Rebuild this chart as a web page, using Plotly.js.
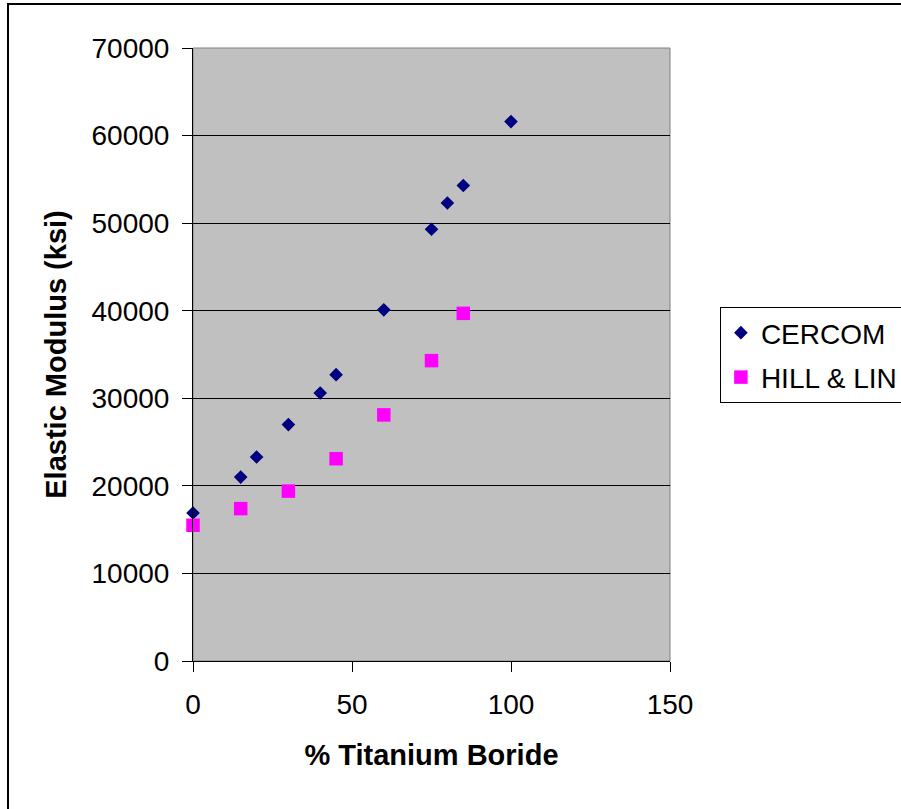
<!DOCTYPE html>
<html>
<head>
<meta charset="utf-8">
<script src="https://cdn.plot.ly/plotly-3.0.1.min.js"></script>
<style>
  html, body { margin: 0; padding: 0; background: #fff; overflow: hidden; }
  #chart { width: 901px; height: 809px; position: absolute; left: 0; top: 0; }
  #frame { position: absolute; left: 7px; top: 3px; width: 1000px; height: 900px;
           border: 2px solid #000; box-sizing: border-box; pointer-events: none; }
</style>
</head>
<body>
<div id="chart"></div>
<div id="frame"></div>
<script>
// CERCOM data
const cercomX = [0, 15, 20, 30, 40, 45, 60, 75, 80, 85, 100];
const cercomY = [16900, 21000, 23300, 27000, 30600, 32700, 40100, 49300, 52300, 54300, 61600];
// HILL & LIN data
const hillX = [0, 15, 30, 45, 60, 75, 85];
const hillY = [15500, 17400, 19400, 23100, 28100, 34300, 39700];

const xTicks = [0, 50, 100, 150];
const yTicks = [0, 10000, 20000, 30000, 40000, 50000, 60000, 70000];

const font = 'Arial, "Liberation Sans", sans-serif';

const traces = [
  {
    x: cercomX, y: cercomY, name: 'CERCOM', type: 'scatter', mode: 'markers',
    legendgroup: 'a', cliponaxis: false,
    marker: { symbol: 'diamond', size: 10.5, color: '#000080' }
  },
  {
    x: hillX, y: hillY, name: 'HILL & LIN', type: 'scatter', mode: 'markers',
    legendgroup: 'b', cliponaxis: false,
    marker: { symbol: 'square', size: 13.5, color: '#FF00FF' }
  }
];

const layout = {
  width: 901, height: 809,
  margin: { l: 193, r: 231, t: 48, b: 148 },
  paper_bgcolor: '#FFFFFF',
  plot_bgcolor: '#C0C0C0',
  font: { family: font, color: '#000', size: 28 },
  showlegend: true,
  legend: {
    xref: 'container', yref: 'container',
    x: 0.799, xanchor: 'left', y: 1 - 307 / 809, yanchor: 'top',
    bgcolor: '#FFFFFF', bordercolor: '#000', borderwidth: 1,
    font: { family: font, size: 28, color: '#000' },
    traceorder: 'grouped', tracegroupgap: 5, itemwidth: 30
  },
  xaxis: {
    range: [0, 150], tickvals: xTicks, ticktext: xTicks.map(String),
    showgrid: false, zeroline: false,
    showline: true, linecolor: '#000', linewidth: 1,
    ticks: 'outside', ticklen: 10, tickcolor: '#000', tickwidth: 1,
    ticklabelstandoff: 8,
    tickfont: { family: font, size: 28, color: '#000' },
    title: { text: '<b>% Titanium Boride</b>', font: { family: font, size: 29, color: '#000' }, standoff: 26 },
    automargin: false
  },
  yaxis: {
    range: [0, 70000], tickvals: yTicks, ticktext: yTicks.map(String),
    showgrid: true, gridcolor: '#000', gridwidth: 1, zeroline: false,
    showline: true, linecolor: '#000', linewidth: 1,
    ticks: 'outside', ticklen: 10, tickcolor: '#000', tickwidth: 1,
    ticklabelstandoff: 7,
    tickfont: { family: font, size: 28, color: '#000' },
    title: { text: '<b>Elastic Modulus (ksi)</b>', font: { family: font, size: 29, color: '#000' }, standoff: 16 },
    automargin: false
  },
  shapes: [
    { type: 'rect', xref: 'paper', yref: 'paper', x0: 0, x1: 1, y0: 0, y1: 1,
      line: { color: '#808080', width: 1 }, fillcolor: 'rgba(0,0,0,0)', layer: 'below' }
  ]
};

Plotly.newPlot('chart', traces, layout, { displayModeBar: false, staticPlot: true });
</script>
</body>
</html>
